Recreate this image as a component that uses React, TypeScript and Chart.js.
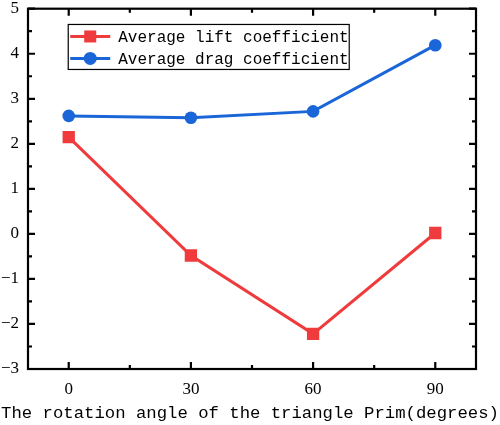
import React, { useEffect, useRef } from "react";
import { Chart, registerables } from "chart.js";

Chart.register(...registerables);

const angles = [0, 30, 60, 90];
const liftValues = [2.15, -0.48, -2.22, 0.02];
const dragValues = [2.62, 2.58, 2.72, 4.19];
const seriesNames = ["Average lift coefficient", "Average drag coefficient"];
const xTicks = [0, 30, 60, 90];
const xMinorTicks = [15, 45, 75];
const yTicks = [-3, -2, -1, 0, 1, 2, 3, 4, 5];
const yMinorTicks = [-2.5, -1.5, -0.5, 0.5, 1.5, 2.5, 3.5, 4.5];
const xTitle = "The rotation angle of the triangle Prim(degrees)";

const RED = "#EF3B3B";
const BLUE = "#1A66D8";

const framePlugin = {
  id: "frame",
  afterDatasetsDraw(chart: any) {
    const { ctx, chartArea: a, scales } = chart;
    const xs = scales.x;
    const ys = scales.y;
    ctx.save();
    ctx.strokeStyle = "#000";
    ctx.lineWidth = 2.2;
    ctx.strokeRect(a.left, a.top, a.right - a.left, a.bottom - a.top);
    ctx.beginPath();
    const tick = (v: number, len: number, isX: boolean) => {
      if (isX) {
        const px = xs.getPixelForValue(v);
        ctx.moveTo(px, a.bottom);
        ctx.lineTo(px, a.bottom - len);
        ctx.moveTo(px, a.top);
        ctx.lineTo(px, a.top + len);
      } else {
        const py = ys.getPixelForValue(v);
        ctx.moveTo(a.left, py);
        ctx.lineTo(a.left + len, py);
        ctx.moveTo(a.right, py);
        ctx.lineTo(a.right - len, py);
      }
    };
    xTicks.forEach((v) => tick(v, 7, true));
    xMinorTicks.forEach((v) => tick(v, 4, true));
    yTicks.forEach((v) => tick(v, 7, false));
    yMinorTicks.forEach((v) => tick(v, 4, false));
    ctx.stroke();
    ctx.restore();
  },
  afterDraw(chart: any) {
    const { ctx } = chart;
    const xs = chart.scales.x;
    const ys = chart.scales.y;
    // legend box
    const left = xs.getPixelForValue(0) - 0.5;
    const top = ys.getPixelForValue(4.65);
    const width = 281;
    const rowH = 22;
    const height = 45;
    ctx.save();
    ctx.fillStyle = "#fff";
    ctx.fillRect(left, top, width, height);
    ctx.strokeStyle = "#000";
    ctx.lineWidth = 1.2;
    ctx.strokeRect(left, top, width, height);
    ctx.font = "16px 'Liberation Mono', monospace";
    ctx.textBaseline = "middle";
    chart.data.datasets.forEach((ds: any, i: number) => {
      const cy = top + 12 + i * rowH;
      ctx.strokeStyle = ds.borderColor;
      ctx.lineWidth = 3;
      ctx.beginPath();
      ctx.moveTo(left + 2, cy);
      ctx.lineTo(left + 42, cy);
      ctx.stroke();
      ctx.fillStyle = ds.backgroundColor;
      const mx = left + 22;
      if (ds.pointStyle === "rect") {
        ctx.fillRect(mx - 6, cy - 6, 12, 12);
      } else {
        ctx.beginPath();
        ctx.arc(mx, cy, 6.5, 0, Math.PI * 2);
        ctx.fill();
      }
      ctx.fillStyle = "#000";
      ctx.textAlign = "left";
      ctx.fillText(ds.label, left + 50, cy + 1);
    });
    // x axis title (drawn unsqueezed)
    ctx.font = "17.3px 'Liberation Mono', monospace";
    ctx.fillStyle = "#000";
    ctx.textAlign = "center";
    ctx.textBaseline = "middle";
    ctx.fillText(xTitle, 250, 413);
    ctx.restore();
  },
};

export default function App() {
  const ref = useRef<HTMLCanvasElement>(null);
  useEffect(() => {
    if (!ref.current) return;
    const chart = new Chart(ref.current, {
      type: "line",
      data: {
        datasets: [
          {
            label: seriesNames[0],
            data: angles.map((a, i) => ({ x: a, y: liftValues[i] })),
            borderColor: RED,
            backgroundColor: RED,
            borderWidth: 3,
            pointStyle: "rect",
            pointRadius: 8.7,
            pointBorderWidth: 0,
            tension: 0,
          },
          {
            label: seriesNames[1],
            data: angles.map((a, i) => ({ x: a, y: dragValues[i] })),
            borderColor: BLUE,
            backgroundColor: BLUE,
            borderWidth: 3,
            pointStyle: "circle",
            pointRadius: 6.3,
            pointBorderWidth: 0,
            tension: 0,
          },
        ],
      },
      options: {
        animation: false,
        responsive: false,
        devicePixelRatio: 1,
        layout: { padding: { top: 7, right: 24, left: 0, bottom: 0 } },
        plugins: {
          legend: { display: false },
          tooltip: { enabled: false },
        },
        scales: {
          x: {
            type: "linear",
            min: -10,
            max: 100,
            afterBuildTicks: (axis: any) => {
              axis.ticks = xTicks.map((v) => ({ value: v }));
            },
            afterFit: (axis: any) => {
              axis.height = 56;
              axis.paddingLeft = 0;
              axis.paddingRight = 0;
            },
            grid: { display: false, drawTicks: false },
            border: { display: false },
            ticks: {
              color: "#000",
              padding: 10,
              maxRotation: 0,
              font: { family: "'Liberation Serif', serif", size: 17 },
            },
          },
          y: {
            type: "linear",
            min: -3,
            max: 5,
            afterBuildTicks: (axis: any) => {
              axis.ticks = yTicks.map((v) => ({ value: v }));
            },
            afterFit: (axis: any) => {
              axis.width = 28;
              axis.paddingTop = 0;
              axis.paddingBottom = 0;
            },
            grid: { display: false, drawTicks: false },
            border: { display: false },
            ticks: {
              color: "#000",
              padding: 9,
              font: { family: "'Liberation Serif', serif", size: 17 },
              callback: (v: any) => (Number(v) < 0 ? "\u2212" + Math.abs(Number(v)) : String(v)),
            },
          },
        },
      },
      plugins: [framePlugin],
    } as any);
    return () => chart.destroy();
  }, []);
  return (
    <div style={{ position: "fixed", left: 0, top: 0, width: 500, height: 425, background: "#fff" }}>
      <canvas ref={ref} width={500} height={425} />
    </div>
  );
}
